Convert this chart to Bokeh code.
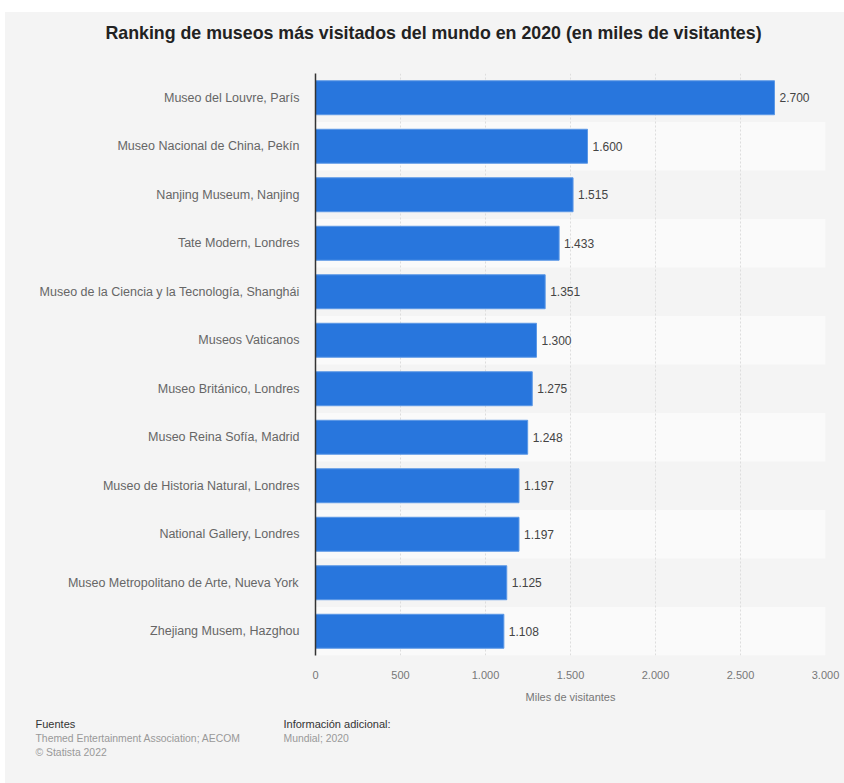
from bokeh.plotting import figure
from bokeh.models import (FactorRange, Range1d, FixedTicker, CustomJSTickFormatter,
                          ColumnDataSource, Spacer)
from bokeh.layouts import column, row
from bokeh.embed import file_html
from bokeh.resources import INLINE
from bokeh.core.properties import value

museums = [
    "Museo del Louvre, París",
    "Museo Nacional de China, Pekín",
    "Nanjing Museum, Nanjing",
    "Tate Modern, Londres",
    "Museo de la Ciencia y la Tecnología, Shanghái",
    "Museos Vaticanos",
    "Museo Británico, Londres",
    "Museo Reina Sofía, Madrid",
    "Museo de Historia Natural, Londres",
    "National Gallery, Londres",
    "Museo Metropolitano de Arte, Nueva York",
    "Zhejiang Musem, Hazghou",
]
visitors = [2700, 1600, 1515, 1433, 1351, 1300, 1275, 1248, 1197, 1197, 1125, 1108]
x_ticks = [0, 500, 1000, 1500, 2000, 2500, 3000]

title_text = "Ranking de museos más visitados del mundo en 2020 (en miles de visitantes)"
x_label = "Miles de visitantes"
source_head = "Fuentes"
source_lines = ["Themed Entertainment Association; AECOM", "© Statista 2022"]
info_head = "Información adicional:"
info_lines = ["Mundial; 2020"]

def fmt(v):
    return f"{v:,}".replace(",", ".")

FONT = "Liberation Sans"
BG = "#f4f4f4"
W = 839           # page width minus 5px white margin on the left
OX, OY = 5, 12    # white margin of the page

def text_fig(h):
    f = figure(width=W, height=h, output_backend="svg", toolbar_location=None,
               x_range=Range1d(0, W), y_range=Range1d(0, h),
               min_border=0, min_border_left=0, min_border_right=0,
               min_border_top=0, min_border_bottom=0)
    f.axis.visible = False
    f.grid.visible = False
    f.outline_line_color = None
    f.background_fill_color = BG
    f.border_fill_color = BG
    return f

def put(f, h, top, text, px, py, size, color, style="normal", align="left"):
    f.text(x=[px - OX], y=[h - (py - top)], text=[text], text_font=value(FONT),
           text_font_size=size, text_color=color, text_font_style=style,
           text_align=align, text_baseline="middle")

# ---- title strip: page y 12..57
TH, TTOP = 45, 12
tf = text_fig(TH)
put(tf, TH, TTOP, title_text, 433, 32, "17.8px", "#222222", "bold", "center")

# ---- main chart: page y 57..705, frame 73..655
MTOP = 57
MH = 705 - MTOP
p = figure(width=W, height=MH, output_backend="svg", toolbar_location=None,
           y_range=FactorRange(factors=list(reversed(museums)), range_padding=0),
           x_range=Range1d(0, 3000),
           min_border_left=310, min_border_right=19,
           min_border_top=73 - MTOP, min_border_bottom=705 - 655)
p.background_fill_color = BG
p.border_fill_color = BG
p.outline_line_color = None

band_src = ColumnDataSource(dict(y=[m for i, m in enumerate(museums) if i % 2 == 1]))
p.hbar(y="y", left=0, right=3000, height=1.0, source=band_src,
       fill_color="#fafafa", line_color=None, level="image")

src = ColumnDataSource(dict(y=museums, x=visitors, lab=[fmt(v) for v in visitors]))
p.hbar(y="y", right="x", left=0, height=0.7, source=src,
       fill_color="#2876dd", line_color="#5b98e6", line_width=1)
p.text(x="x", y="y", text="lab", source=src, x_offset=5, text_baseline="middle",
       text_align="left", text_font=value(FONT), text_font_size="12px", text_color="#444444")

p.xaxis.ticker = FixedTicker(ticks=x_ticks)
p.xaxis.formatter = CustomJSTickFormatter(
    code='return tick.toString().replace(/\\B(?=(\\d{3})+(?!\\d))/g, ".");')
p.xaxis.axis_line_color = None
p.xaxis.major_tick_line_color = None
p.xaxis.minor_tick_line_color = None
p.xaxis.major_label_text_font = FONT
p.xaxis.major_label_text_font_size = "11px"
p.xaxis.major_label_text_color = "#777777"
p.xaxis.major_label_standoff = 9
p.xaxis.axis_label = x_label
p.xaxis.axis_label_text_font = FONT
p.xaxis.axis_label_text_font_size = "11px"
p.xaxis.axis_label_text_font_style = "normal"
p.xaxis.axis_label_text_color = "#777777"
p.xaxis.axis_label_standoff = 9

p.yaxis.axis_line_color = "#333333"
p.yaxis.axis_line_width = 1.5
p.yaxis.major_tick_line_color = None
p.yaxis.minor_tick_line_color = None
p.yaxis.major_label_text_font = FONT
p.yaxis.major_label_text_font_size = "12.5px"
p.yaxis.major_label_text_color = "#666666"
p.yaxis.major_label_standoff = 10

p.xgrid.grid_line_color = "#dddddd"
p.xgrid.grid_line_dash = "2 2"
p.ygrid.grid_line_color = None

# ---- footer: page y 705..783
FTOP = 705
FH = 783 - FTOP
ff = text_fig(FH)
put(ff, FH, FTOP, source_head, 35, 723, "11px", "#333333")
for i, t in enumerate(source_lines):
    put(ff, FH, FTOP, t, 35, 738 + 14 * i, "10.4px", "#999999")
put(ff, FH, FTOP, info_head, 283, 723, "11px", "#333333")
for i, t in enumerate(info_lines):
    put(ff, FH, FTOP, t, 283, 738 + 14 * i, "10.4px", "#999999")

WHITE = {"background-color": "white"}
GRAY = {"background-color": BG}
layout = column(Spacer(height=OY, width=OX + W, styles=WHITE),
                row(Spacer(width=OX, height=TH, styles=WHITE), tf, styles=GRAY),
                row(Spacer(width=OX, height=MH, styles=WHITE), p, styles=GRAY),
                row(Spacer(width=OX, height=FH, styles=WHITE), ff, styles=GRAY),
                spacing=0, styles=GRAY)
open("out.html", "w").write(file_html(layout, INLINE))
